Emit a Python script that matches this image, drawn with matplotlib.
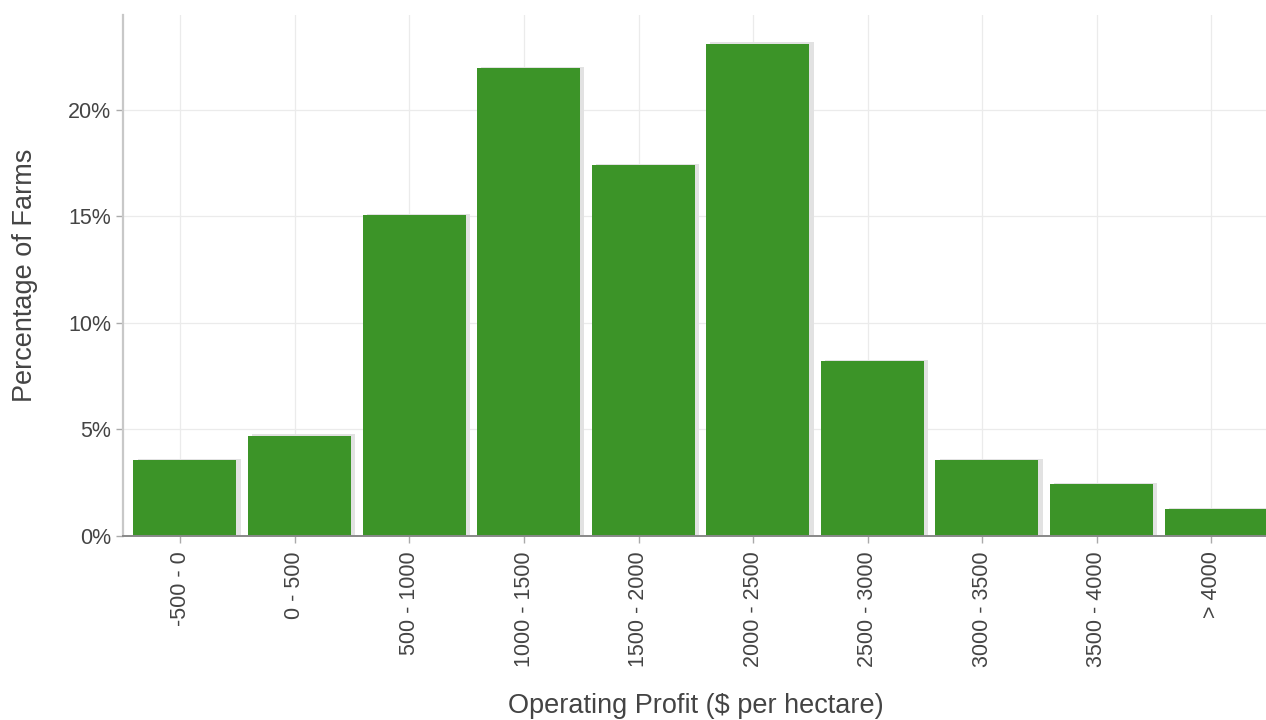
import matplotlib
matplotlib.use('Agg')
import matplotlib.pyplot as plt
import matplotlib.patheffects as pe
from matplotlib.ticker import FuncFormatter

plt.rcParams['font.family'] = ['Liberation Sans', 'DejaVu Sans']

# profit bands and share of farms in each (%)
bands = ['-500 - 0', '0 - 500', '500 - 1000', '1000 - 1500', '1500 - 2000',
         '2000 - 2500', '2500 - 3000', '3000 - 3500', '3500 - 4000', '> 4000']
share = [3.57, 4.7, 15.07, 21.97, 17.4, 23.1, 8.2, 3.57, 2.44, 1.27]

fig = plt.figure(figsize=(12.66, 7.2), dpi=100)
ax = fig.add_axes([0.0972, 0.2556, 0.905, 0.7234])

x = list(range(len(bands)))
# bars sit a touch right of their tick
bars = ax.bar([i + 0.04 for i in x], share, width=0.9, color='#3c9428', zorder=3)
for b in bars:
    b.set_path_effects([pe.SimplePatchShadow(offset=(3, 1), shadow_rgbFace='#e2e2e2', alpha=1),
                        pe.Normal()])

ax.set_xlim(-0.5, 9.5)
ax.set_ylim(0, 24.45)
ax.set_yticks([0, 5, 10, 15, 20])
ax.yaxis.set_major_formatter(FuncFormatter(lambda v, p: f'{int(v)}%'))
ax.set_xticks(x)
ax.set_xticklabels(bands, rotation=90)

ax.grid(True, color='#ebebeb', linewidth=0.9, zorder=0)
for s in ['top', 'right']:
    ax.spines[s].set_visible(False)
ax.spines['left'].set_color('#c8c8c8')
ax.spines['left'].set_linewidth(1.6)
ax.spines['bottom'].set_color('#888888')
ax.spines['bottom'].set_linewidth(1.4)
ax.spines['bottom'].set_zorder(4)
ax.tick_params(axis='both', colors='#aaaaaa', labelcolor='#444444', labelsize=15.5,
               length=5, width=1)
ax.tick_params(axis='x', pad=6)

ax.set_ylabel('Percentage of Farms', fontsize=19.5, color='#444444', labelpad=22)
ax.set_xlabel('Operating Profit ($ per hectare)', fontsize=19.5, color='#444444', labelpad=19)

fig.savefig('out.png', dpi=100)
